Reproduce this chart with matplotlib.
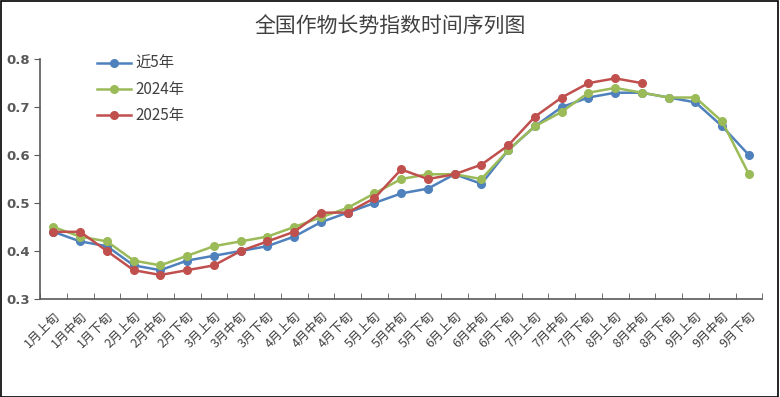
import matplotlib.pyplot as plt
from matplotlib.patches import Rectangle

plt.rcParams['font.family'] = ['Noto Sans CJK SC', 'DejaVu Sans']

# categories (ten-day periods)
periods = [f'{m}月{p}旬' for m in range(1, 10) for p in ['上', '中', '下']]

near5 = [0.44, 0.42, 0.41, 0.37, 0.36, 0.38, 0.39, 0.40, 0.41, 0.43, 0.46, 0.48, 0.50, 0.52,
         0.53, 0.56, 0.54, 0.61, 0.66, 0.70, 0.72, 0.73, 0.73, 0.72, 0.71, 0.66, 0.60]
y2024 = [0.45, 0.43, 0.42, 0.38, 0.37, 0.39, 0.41, 0.42, 0.43, 0.45, 0.47, 0.49, 0.52, 0.55,
         0.56, 0.56, 0.55, 0.61, 0.66, 0.69, 0.73, 0.74, 0.73, 0.72, 0.72, 0.67, 0.56]
y2025 = [0.44, 0.44, 0.40, 0.36, 0.35, 0.36, 0.37, 0.40, 0.42, 0.44, 0.48, 0.48, 0.51, 0.57,
         0.55, 0.56, 0.58, 0.62, 0.68, 0.72, 0.75, 0.76, 0.75]

fig = plt.figure(figsize=(7.8, 3.97), dpi=100)
ax = fig.add_axes([0.0513, 0.247, 0.926, 0.604])

x = list(range(len(periods)))
ax.plot(x, near5, color='#4F81BD', marker='o', markersize=5.5, linewidth=1.8, label='近5年')
ax.plot(x, y2024, color='#9BBB59', marker='o', markersize=5.5, linewidth=1.8, label='2024年')
ax.plot(x[:len(y2025)], y2025, color='#C0504D', marker='o', markersize=5.5, linewidth=1.8, label='2025年')

ax.set_xlim(-0.5, len(periods) - 0.5)
ax.set_ylim(0.3, 0.8)
ax.set_yticks([0.3, 0.4, 0.5, 0.6, 0.7, 0.8])
ax.set_yticklabels(['0.3', '0.4', '0.5', '0.6', '0.7', '0.8'], fontsize=9.5,
                   fontweight='bold', color='#595959', family='DejaVu Sans')
ax.set_xticks(x)
ax.set_xticklabels(periods, rotation=45, ha='right', rotation_mode='anchor',
                   fontsize=9, color='#404040')
ax.tick_params(axis='x', length=0, pad=8)
ax.set_xticks([i - 0.5 for i in range(len(periods) + 1)], minor=True)
ax.tick_params(axis='x', which='minor', direction='in', length=4, color='#595959')
ax.tick_params(axis='y', direction='out', length=4, color='#595959')

for s in ['top', 'right']:
    ax.spines[s].set_visible(False)
for s in ['left', 'bottom']:
    ax.spines[s].set_color('#595959')
    ax.spines[s].set_linewidth(1.2)

ax.legend(loc='upper left', bbox_to_anchor=(0.06, 1.075), frameon=False, fontsize=11,
          handlelength=2.2, handletextpad=0.3, labelspacing=0.6, labelcolor='#404040')

fig.suptitle('全国作物长势指数时间序列图', y=0.96, fontsize=15, color='#404040')

fig.patches.append(Rectangle((0.001, 0.001), 0.997, 0.997, transform=fig.transFigure,
                             fill=False, edgecolor='black', linewidth=1.2))

fig.savefig('out.png', dpi=100)
